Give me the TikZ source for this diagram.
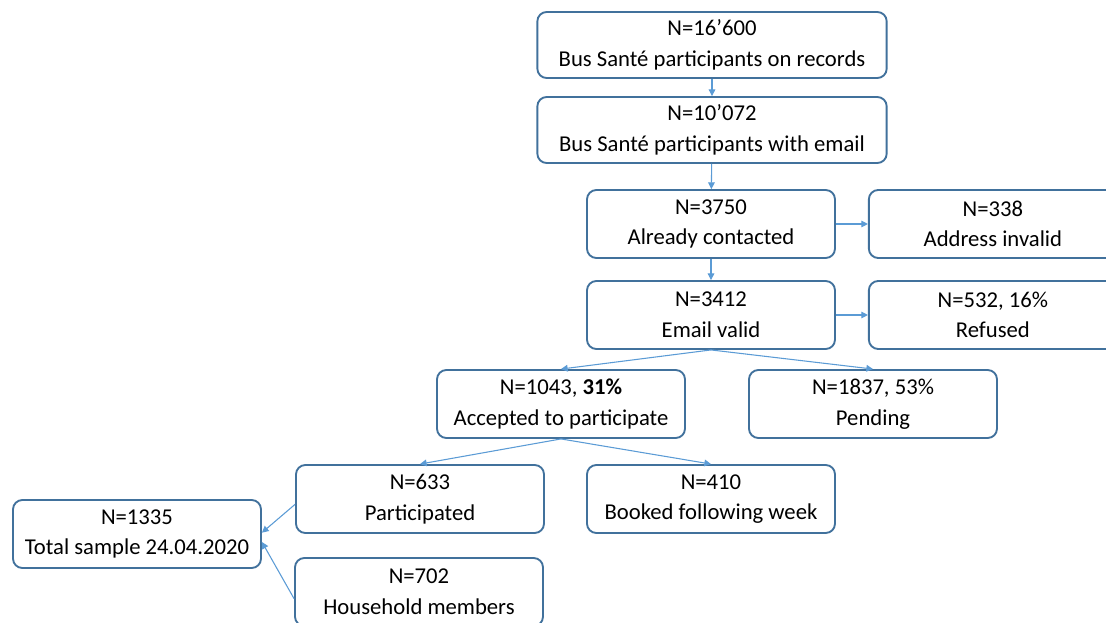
\documentclass[tikz,border=0pt]{standalone}
\usepackage{fontspec}
\setmainfont{Carlito}
\usepackage{tikz}
\usetikzlibrary{arrows.meta, positioning}
\definecolor{boxline}{RGB}{65,113,156}
\definecolor{arrowline}{RGB}{91,155,213}
\tikzset{
    box/.style={rectangle, rounded corners=7pt, draw=boxline, line width=1.4pt, fill=white, text centered, align=center, minimum width=186pt, minimum height=51pt, font=\fontsize{17}{23}\selectfont},
    widebox/.style={box, minimum width=262pt, minimum height=49.5pt},
    flow/.style={->, >={Triangle[length=5pt, width=5pt]}, draw=arrowline, line width=0.8pt}
}
\begin{document}
\begin{tikzpicture}[x=0.75pt, y=-0.75pt]
    \useasboundingbox (0,0) rectangle (1106,623);

    % Bus Sante records
    \node[widebox] (records) at (712,45) {N=16'600\\Bus Santé participants on records};
    \node[widebox] (email) at (712,130) {N=10'072\\Bus Santé participants with email};

    % Contacted and valid
    \node[box] (contacted) at (711,224) {N=3750\\Already contacted};
    \node[box, right=24pt of contacted] (invalid) {N=338\\Address invalid};
    \node[box] (valid) at (711,315) {N=3412\\Email valid};
    \node[box, right=24pt of valid] (refused) {N=532, 16\%\\Refused};

    % Answers
    \node[box] (accepted) at (561,404) {N=1043, \textbf{31\%}\\Accepted to participate};
    \node[box] (pending) at (873,404) {N=1837, 53\%\\Pending};

    % Participation
    \node[box] (participated) at (420,499) {N=633\\Participated};
    \node[box] (booked) at (711,499) {N=410\\Booked following week};
    \node[box] (total) at (137,534) {N=1335\\Total sample 24.04.2020};
    \node[box] (household) at (419,592) {N=702\\Household members};

    % Connections
    \draw[flow] (records) -- (email);
    \draw[flow] (email) -- (contacted);
    \draw[flow] (contacted) -- (invalid);
    \draw[flow] (contacted) -- (valid);
    \draw[flow] (valid) -- (refused);
    \draw[flow] (valid.south) -- (accepted.north);
    \draw[flow] (valid.south) -- (pending.north);
    \draw[flow] (accepted.south) -- (participated.north);
    \draw[flow] (accepted.south) -- (booked.north);
    \draw[flow] ([yshift=-4pt]participated.west) -- ([yshift=1pt]total.east);
    \draw[flow] ([yshift=-5pt]household.west) -- ([yshift=-6pt]total.east);
\end{tikzpicture}
\end{document}
